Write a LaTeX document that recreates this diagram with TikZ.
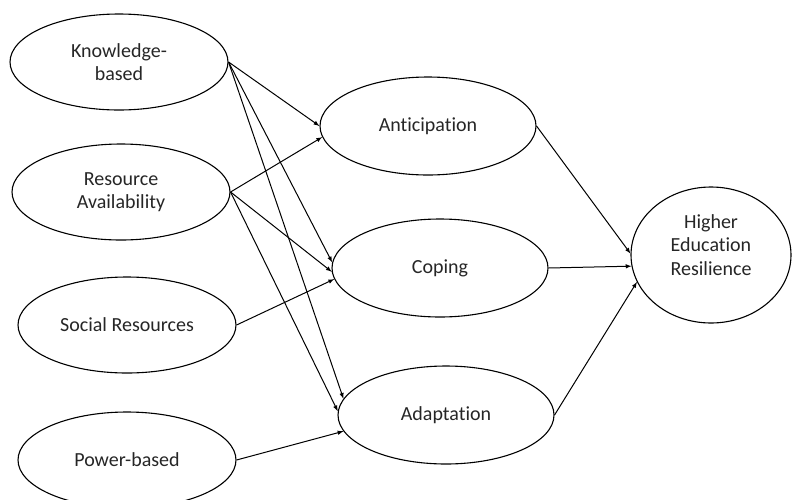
\documentclass[tikz,border=0pt]{standalone}
\usepackage{fontspec}
\setmainfont{Carlito}[Ligatures=NoCommon, RawFeature=-liga]
\usepackage{tikz}
\usetikzlibrary{shapes.geometric}

\begin{document}
\begin{tikzpicture}[x=1pt, y=-1pt, main/.style={draw, ellipse, inner sep=0pt, line width=1.1pt, align=center, text=black!85, font=\fontsize{20}{23.5}\selectfont}, left/.style={main, minimum width=218pt, minimum height=96pt}, mid/.style={main, minimum width=216pt, minimum height=98pt}, n/.style={-latex, line width=1pt}]
            \useasboundingbox (0,0) rectangle (793,499);
            % nodes
            \node[left] (know) at (119,62) {Knowledge-\\based};
            \node[left] (res) at (121,192) {Resource\\Availability};
            \node[left] (soc) at (127,325) {Social Resources};
            \node[left] (pow) at (127,460) {Power-based};
            \node[mid] (ant) at (428,126) {Anticipation};
            \node[mid] (cop) at (440,268) {Coping};
            \node[mid] (adp) at (446,415) {Adaptation};
            \node[main, minimum width=160pt, minimum height=136pt, label={[yshift=10pt, align=center, text=black!85, font=\fontsize{20}{23.5}\selectfont]center:Higher\\Education\\Resilience}] (her) at (711,255) {};
            % edges
            \draw [->, n] (know.east) -- (ant.180);
            \draw [->, n] (know.east) -- (cop.177);
            \draw [->, n] (know.east) -- (adp.171);
            \draw [->, n] (res.east) -- (ant.186);
            \draw [->, n] (res.east) -- (cop.182);
            \draw [->, n] (res.east) -- (adp.178);
            \draw [->, n] (soc.east) -- (cop.186);
            \draw [->, n] (pow.east) -- (adp.189);
            \draw [->, n] (ant.east) -- (her.179);
            \draw [->, n] (cop.east) -- (her.188);
            \draw [->, n] (adp.east) -- (her.200);
        \end{tikzpicture}
\end{document}
